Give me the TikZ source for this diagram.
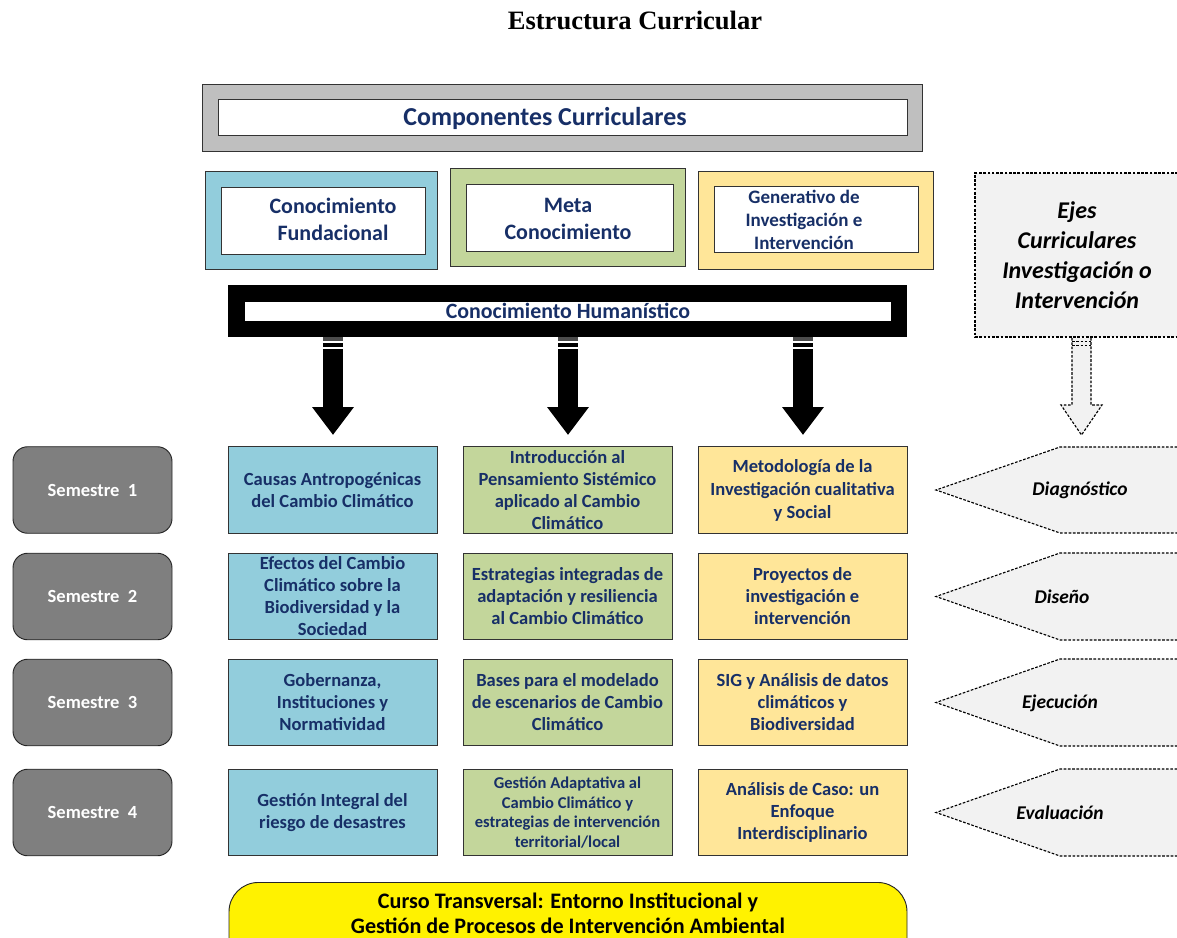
\documentclass[tikz,border=0pt]{standalone}
\usepackage{fontspec}
\setmainfont{Carlito}
\newfontfamily\titlefont{Liberation Serif}
\usetikzlibrary{arrows.meta}
\definecolor{navy}{HTML}{172F67}
\definecolor{cblue}{HTML}{92CDDC}
\definecolor{cgreen}{HTML}{C3D69B}
\definecolor{cyel}{HTML}{FFE699}
\definecolor{cgray}{HTML}{BFBFBF}
\definecolor{csem}{HTML}{7F7F7F}
\definecolor{cdash}{HTML}{F2F2F2}
\newcommand\fs[2]{\fontsize{#1pt}{#2pt}\selectfont}
\begin{document}
\begin{tikzpicture}[x=0.75pt,y=-0.75pt,
  box/.style={draw=black!80,line width=0.7pt,inner sep=0pt},
  txt/.style={align=center,inner sep=0pt,font=\bfseries\fs{13.9}{16.5},text=navy},
  cell/.style={box,txt,minimum width=156.75pt,minimum height=64.9pt},
  sem/.style={box,draw=black!85,fill=csem,rounded corners=11pt,minimum width=119.25pt,minimum height=64.9pt,
     align=center,font=\bfseries\fs{13.9}{16.5},text=white},
  dashline/.style={draw=black,line width=0.85pt,dash pattern=on 2pt off 1.2pt},
  axis/.style={font=\bfseries\itshape\fs{14.6}{17},text=black,inner sep=0pt},
  bigarrow/.style={line width=15pt,-{Triangle[width=30pt,length=21pt]}},
]
\useasboundingbox (0,0) rectangle (1177,938);
\clip (0,0) rectangle (1177,938);

% title
\node[font=\titlefont\bfseries\fs{19.9}{22},inner sep=0pt] (title) at (635,20) {Estructura Curricular};

% components header
\node[box,fill=cgray,minimum width=540pt,minimum height=50.25pt] (comp) at (562,117.5) {};
\node[box,fill=white,minimum width=516.75pt,minimum height=27pt] (compin) at (562.5,117) {};
\node[txt,font=\bfseries\fs{19.4}{22}] (compt) at (545,118) {Componentes Curriculares};

% three components
\node[box,fill=cblue,minimum width=174pt,minimum height=73.5pt] (fund) at (321,220) {};
\node[box,fill=white,minimum width=153pt,minimum height=50.25pt] (fundin) at (323,220.5) {};
\node[txt,font=\bfseries\fs{16.5}{20.25}] (fundt) at (333,219.5) {Conocimiento\\Fundacional};

\node[box,fill=cgreen,minimum width=176.25pt,minimum height=73.5pt] (meta) at (567.5,217) {};
\node[box,fill=white,minimum width=155.25pt,minimum height=50.25pt] (metain) at (569.5,217.5) {};
\node[txt,font=\bfseries\fs{16.5}{20.25}] (metat) at (568,218.5) {Meta\\Conocimiento};

\node[box,fill=cyel,minimum width=176.25pt,minimum height=73.5pt] (gen) at (815.5,220) {};
\node[box,fill=white,minimum width=153pt,minimum height=49.5pt] (genin) at (816,219) {};
\node[txt,font=\bfseries\fs{14.25}{17.25}] (gent) at (804,220) {Generativo de\\Investigación e\\Intervención};

% humanistic bar
\node[fill=black,inner sep=0pt,minimum width=509.25pt,minimum height=39pt] (hum) at (567.5,311) {};
\node[fill=white,inner sep=0pt,minimum width=484.5pt,minimum height=14.25pt] (humin) at (568,311.5) {};
\node[txt,font=\bfseries\fs{16.4}{18}] (humt) at (568,311) {Conocimiento Humanístico};

% big arrows
\foreach \c/\n in {333/1,568/2,803/3}{
  \coordinate (tip\n) at (\c,435);
  \draw[bigarrow] (hum.south -| tip\n) -- (tip\n);
  \fill[black!70] (\c-10,337) rectangle (\c+10,341.5);
  \draw[white,line width=0.8pt] (\c-10,342) -- (\c+10,342);
  \draw[white,line width=0.8pt] (\c-10,348) -- (\c+10,348);
}

% Ejes box
\path[fill=cdash] (975,173) rectangle (1195,337);
\draw[dashline] (1195,173) -- (975,173) -- (975,337) -- (1195,337);
\node[axis,font=\bfseries\itshape\fs{18}{22.5},align=center] (ejes) at (1077,255.5) {Ejes\\Curriculares\\Investigación o\\Intervención};
\coordinate (etip) at (1081.5,435);
\path[fill=cdash] (1072,338) -- (1072,405) -- (1061,405) -- (etip) -- (1102,405) -- (1091,405) -- (1091,338) -- cycle;
\draw[dashline] (1072,338) -- (1072,405) -- (1061,405) -- (etip) -- (1102,405) -- (1091,405) -- (1091,338);
\draw[dashline,line width=0.7pt] (1072,341) -- (1091,341);
\draw[dashline,line width=0.7pt] (1072,345) -- (1091,345);

% semesters
\node[sem] (s1) at (92.5,490) {Semestre~~1};
\node[sem] (s2) at (92.5,596.5) {Semestre~~2};
\node[sem] (s3) at (92.5,702.5) {Semestre~~3};
\node[sem] (s4) at (92.5,812.5) {Semestre~~4};

% row 1
\node[cell,fill=cblue] (r1c1) at (332.5,490) {Causas Antropogénicas\\del Cambio Climático};
\node[cell,fill=cgreen] (r1c2) at (567.5,490) {Introducción al\\Pensamiento Sistémico\\aplicado al Cambio\\Climático};
\node[cell,fill=cyel,font=\bfseries\fs{13.9}{17.25}] (r1c3) at (802.5,490) {Metodología de la\\Investigación cualitativa\\y Social};
% row 2
\node[cell,fill=cblue] (r2c1) at (332.5,596.5) {Efectos del Cambio\\Climático sobre la\\Biodiversidad y la\\Sociedad};
\node[cell,fill=cgreen] (r2c2) at (567.5,596.5) {Estrategias integradas de\\adaptación y resiliencia\\al Cambio Climático};
\node[cell,fill=cyel] (r2c3) at (802.5,596.5) {Proyectos de\\investigación e\\intervención};
% row 3
\node[cell,fill=cblue] (r3c1) at (332.5,702.5) {Gobernanza,\\Instituciones y\\Normatividad};
\node[cell,fill=cgreen] (r3c2) at (567.5,702.5) {Bases para el modelado\\de escenarios de Cambio\\Climático};
\node[cell,fill=cyel] (r3c3) at (802.5,702.5) {SIG y Análisis de datos\\climáticos y\\Biodiversidad};
% row 4
\node[cell,fill=cblue] (r4c1) at (332.5,812.5) {Gestión Integral del\\riesgo de desastres};
\node[cell,fill=cgreen,font=\bfseries\fs{12.4}{14.6}] (r4c2) at (567.5,812.5) {Gestión Adaptativa al\\Cambio Climático y\\estrategias de intervención\\territorial/local};
\node[cell,fill=cyel] (r4c3) at (802.5,812.5) {Análisis de Caso: un\\Enfoque\\Interdisciplinario};

% pentagons
\foreach \t/\b/\n in {447/533/1,553/640/2,659/746/3,769/856/4}{
  \path[fill=cdash] (1190,\t) -- (1060,\t) -- (936,{(\t+\b)/2}) -- (1060,\b) -- (1190,\b) -- cycle;
  \draw[dashline] (1190,\t) -- (1060,\t) -- (936,{(\t+\b)/2}) -- (1060,\b) -- (1190,\b);
}
\node[axis] (p1) at (1080,490) {Diagnóstico};
\node[axis] (p2) at (1062,597) {Diseño};
\node[axis] (p3) at (1060,703) {Ejecución};
\node[axis] (p4) at (1060,813) {Evaluación};

% bottom course
\node[draw=black!85,line width=0.7pt,fill=yellow,rounded corners=22pt,minimum width=508.5pt,minimum height=84pt,anchor=north] (curso) at (568,882) {};
\node[txt,text=black,font=\bfseries\fs{16.6}{18.75}] (cursot) at (568,913.5) {Curso Transversal: Entorno Institucional y\\Gestión de Procesos de Intervención Ambiental};
\end{tikzpicture}
\end{document}
